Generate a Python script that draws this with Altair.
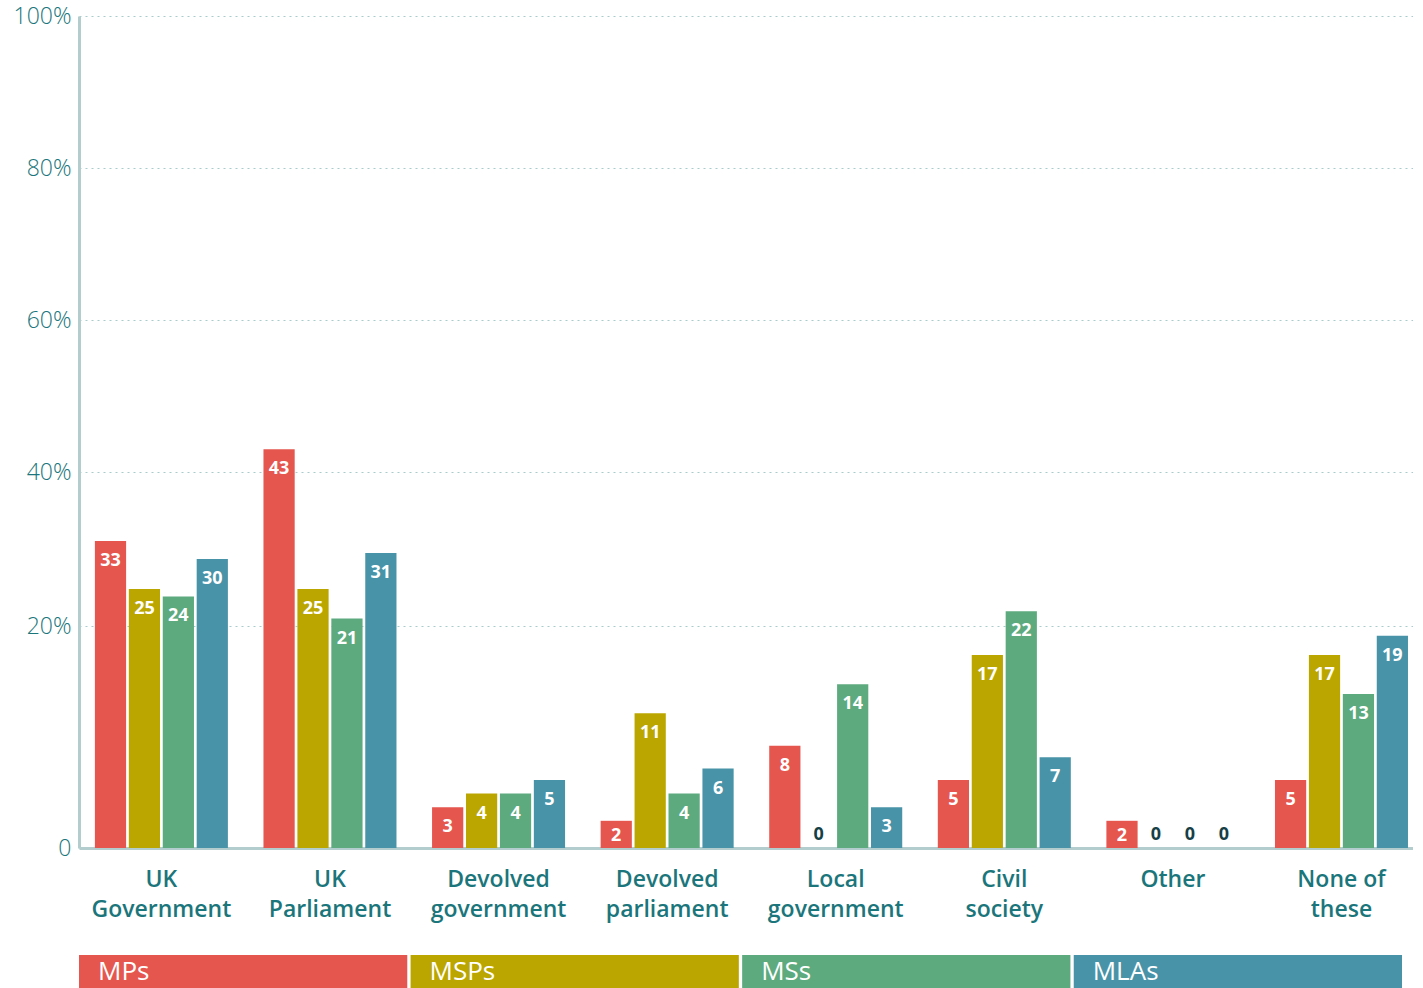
import altair as alt
import pandas as pd

categories = ["UK|Government", "UK|Parliament", "Devolved|government", "Devolved|parliament",
              "Local|government", "Civil|society", "Other", "None of|these"]
series = ["MPs", "MSPs", "MSs", "MLAs"]
mps = [33, 43, 3, 2, 8, 5, 2, 5]
msps = [25, 25, 4, 11, 0, 17, 0, 17]
mss = [24, 21, 4, 4, 14, 22, 0, 13]
mlas = [30, 31, 5, 6, 3, 7, 0, 19]
colors = ["#e5564f", "#bba600", "#5caa7e", "#4893a8"]
y_ticks = [0, 20, 40, 60, 80, 100]

rows = []
for s, vals in zip(series, [mps, msps, mss, mlas]):
    for c, v in zip(categories, vals):
        rows.append({"category": c, "series": s, "value": v})
df = pd.DataFrame(rows)

FONT = "Open Sans"
TEAL = "#1b767b"
AXIS_LINE = "#b3cdce"
W, H = 1334, 832

# piecewise scale (the original's axis is not linear)
y_domain = [0, 5, 10, 20, 25, 33, 40, 100]
y_heights = [0, 68, 125, 222, 259, 307, 376, 832]
y_range = [H - h for h in y_heights]

color_scale = alt.Scale(domain=series, range=colors)

base = alt.Chart(df).encode(
    x=alt.X("category:N", sort=categories,
            scale=alt.Scale(paddingInner=0.211, paddingOuter=0.062, align=0.76),
            axis=alt.Axis(title=None, labelExpr="split(datum.label, '|')", labelAngle=0,
                          ticks=False, labelPadding=20, labelFont=FONT, labelFontSize=23,
                          labelFontWeight=600, labelColor=TEAL, labelLineHeight=30,
                          labelBaseline="top", labelOverlap=False, labelLimit=400,
                          domainColor=AXIS_LINE, domainWidth=3,
                          minExtent=80, maxExtent=80)),
    xOffset=alt.XOffset("series:N", sort=series,
                        scale=alt.Scale(paddingInner=0.08, paddingOuter=0)),
    y=alt.Y("value:Q",
            scale=alt.Scale(domain=y_domain, range=y_range, nice=False, zero=False),
            axis=alt.Axis(title=None, values=y_ticks,
                          labelExpr="datum.value == 0 ? '0' : datum.value + '%'",
                          grid=True, gridDash=[2, 4], gridColor="#a9cbcc", gridWidth=1,
                          ticks=False, domainColor=AXIS_LINE, domainWidth=3,
                          labelPadding=8, labelFont=FONT, labelFontSize=23,
                          labelFontWeight=300, labelColor=TEAL,
                          minExtent=79, maxExtent=79)),
)

bars = base.mark_bar().encode(
    color=alt.Color("series:N", scale=color_scale, legend=None)
)
labels_pos = base.transform_filter("datum.value > 2").mark_text(
    dy=20, color="white", font=FONT, fontSize=18, fontWeight="bold", baseline="middle"
).encode(text="value:Q")
labels_small = base.transform_filter("datum.value > 0 && datum.value <= 2").mark_text(
    dy=15, color="white", font=FONT, fontSize=18, fontWeight="bold", baseline="middle"
).encode(text="value:Q")
labels_zero = base.transform_filter("datum.value == 0").mark_text(
    dy=-13, color="#173f46", font=FONT, fontSize=18, fontWeight="bold", baseline="middle"
).encode(text="value:Q")

main = (bars + labels_pos + labels_small + labels_zero).properties(width=W, height=H)

leg_df = pd.DataFrame({"series": series})
leg_x_scale = alt.Scale(paddingInner=0.01, paddingOuter=0)
legend_bars = alt.Chart(leg_df).mark_bar().encode(
    x=alt.X("series:N", sort=series, scale=leg_x_scale, axis=None),
    color=alt.Color("series:N", scale=color_scale, legend=None),
)
legend_text = alt.Chart(leg_df).mark_text(
    align="left", dx=19, color="white", font=FONT, fontSize=26, baseline="middle"
).encode(
    x=alt.X("series:N", sort=series, scale=leg_x_scale, axis=None, bandPosition=0),
    text="series:N",
)
legend = (legend_bars + legend_text).properties(width=1323, height=33)

chart = alt.vconcat(main, legend, spacing=27).properties(
    padding={"left": 0, "top": 5, "right": 0, "bottom": 0}
).configure_view(strokeWidth=0)

chart.save("out.html", embed_options={"renderer": "svg", "actions": False})
